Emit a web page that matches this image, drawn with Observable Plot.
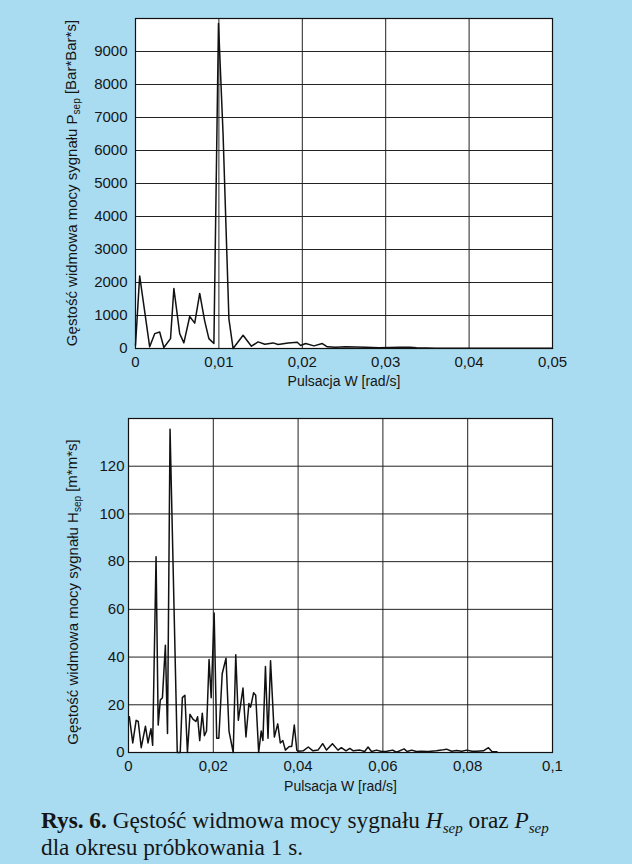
<!DOCTYPE html>
<html><head><meta charset="utf-8">
<script src="https://cdn.jsdelivr.net/npm/d3@7"></script>
<script src="https://cdn.jsdelivr.net/npm/@observablehq/plot@0.6"></script>
<style>
body{margin:0;background:#aadcf1;width:632px;height:864px;overflow:hidden}
#charts svg{display:block}
#caption{font-family:"Liberation Serif",serif;font-size:23.3px;line-height:27px;padding:7px 0 0 41px;color:#151515;white-space:nowrap}
#caption sub{font-size:15px;line-height:0;vertical-align:-5px}
</style></head><body>
<div id="charts"></div>
<div id="caption"><b>Rys. 6.</b> Gęstość widmowa mocy sygnału <i>H<sub>sep</sub></i> oraz <i>P<sub>sep</sub></i><br>dla okresu próbkowania 1 s.</div>
<script>
// Top chart: P_sep spectrum
const topX = [0, 0.0005, 0.0017, 0.0023, 0.0029, 0.0034, 0.0042, 0.0046, 0.0053, 0.0058, 0.0065, 0.0071, 0.0077, 0.0083, 0.0088, 0.0094, 0.00995, 0.0105, 0.0112, 0.0117, 0.0129, 0.0139, 0.0147, 0.0155, 0.0165, 0.0171, 0.0183, 0.0194, 0.0198, 0.0204, 0.0214, 0.0224, 0.0230, 0.0240, 0.0252, 0.0276, 0.0292, 0.0317, 0.0329, 0.0337, 0.0360, 0.0400, 0.0450, 0.0500];
const topY = [100, 2200, 50, 450, 500, 30, 300, 1820, 450, 170, 970, 770, 1670, 830, 300, 150, 9850, 6500, 900, 0, 400, 70, 200, 130, 170, 120, 170, 190, 90, 150, 80, 150, 50, 40, 50, 40, 20, 40, 40, 20, 10, 8, 5, 5];
const topXTicks = [0, 0.01, 0.02, 0.03, 0.04, 0.05];
const topYTicks = [0, 1000, 2000, 3000, 4000, 5000, 6000, 7000, 8000, 9000];

// Bottom chart: H_sep spectrum
const botX = [0.0002, 0.001, 0.0018, 0.0023, 0.003, 0.004, 0.0046, 0.0053, 0.0057, 0.0065, 0.007, 0.0075, 0.008, 0.0087, 0.0092, 0.0098, 0.0115, 0.0122, 0.0127, 0.0133, 0.0139, 0.0145, 0.0152, 0.0159, 0.0163, 0.0168, 0.0174, 0.0179, 0.0184, 0.019, 0.0195, 0.0202, 0.0208, 0.0213, 0.0221, 0.023, 0.0237, 0.0247, 0.0253, 0.0259, 0.027, 0.0277, 0.0284, 0.0288, 0.0295, 0.03, 0.0307, 0.0313, 0.0317, 0.0323, 0.0329, 0.0335, 0.0344, 0.0352, 0.0358, 0.0364, 0.037, 0.0379, 0.0385, 0.0391, 0.0397, 0.04, 0.0412, 0.0424, 0.0435, 0.0447, 0.0458, 0.0467, 0.0481, 0.0494, 0.0502, 0.0513, 0.0522, 0.053, 0.0546, 0.0557, 0.0565, 0.0573, 0.0585, 0.0597, 0.0609, 0.0623, 0.0632, 0.065, 0.0657, 0.0668, 0.0679, 0.0691, 0.0707, 0.0726, 0.0738, 0.075, 0.0762, 0.0774, 0.0786, 0.0798, 0.081, 0.0821, 0.0837, 0.0849, 0.0857, 0.0869];
const botY = [15, 4, 13.5, 13, 2, 11, 4, 10, 3, 82, 11.5, 22, 23, 45, 8, 135.5, 0, 0, 23, 24, 0, 16, 14, 13, 15, 5, 16.5, 7, 9, 39, 23, 58.5, 6, 6, 33, 39.5, 9, 0, 41, 13.5, 27, 6.5, 20.5, 19, 25, 24, 0, 9, 5, 36, 6, 38.5, 6.5, 12, 4, 5, 1, 2.5, 2.5, 11.5, 1, 0.5, 0.7, 2.3, 0.7, 1, 3.7, 1, 3.7, 1, 2, 0.7, 1.7, 0.7, 1, 0.4, 2.3, 0.4, 1, 0.4, 0.5, 1, 0.1, 1.5, 0.4, 1, 0.4, 0.5, 0.4, 0.7, 1, 1.4, 0.5, 0.8, 0.5, 1, 0.5, 0.5, 0.7, 2, 0.4, 0.3];
const botXTicks = [0, 0.02, 0.04, 0.06, 0.08, 0.1];
const botYTicks = [0, 20, 40, 60, 80, 100, 120];

const xLabel = "Pulsacja W [rad/s]";
const fmtX = d => String(d).replace(".", ",");
const fmtY = d => String(d);
const SANS = "'Liberation Sans', Arial, sans-serif";

function chart({xs, ys, xDomain, xTicks, yDomain, yTicks, marginLeft, marginBottom, yPad, symbol, unit, yLabelX, yLabelY, xLabelDy}) {
  const data = xs.map((x, i) => ({x, y: ys[i]}));
  const svg = Plot.plot({
    width: 632, height: 400,
    marginLeft, marginRight: 80, marginTop: 18, marginBottom,
    style: {background: "transparent", fontFamily: SANS, fontSize: "15px", color: "#151515"},
    x: {domain: xDomain},
    y: {domain: yDomain},
    marks: [
      Plot.frame({fill: "white"}),
      Plot.gridX(xTicks, {stroke: "#222", strokeOpacity: 1, strokeWidth: 1}),
      Plot.gridY(yTicks, {stroke: "#222", strokeOpacity: 1, strokeWidth: 1}),
      Plot.axisX(xTicks, {tickSize: 0, tickPadding: 8, tickFormat: fmtX, label: null}),
      Plot.axisY(yTicks, {tickSize: 0, tickPadding: yPad, tickFormat: fmtY, label: null}),
      Plot.text([xLabel], {frameAnchor: "bottom", dy: xLabelDy, fontSize: 14, fill: "#151515"}),
      Plot.line(data, {x: "x", y: "y", stroke: "#111", strokeWidth: 1.5}),
      Plot.frame({stroke: "#111", strokeWidth: 1.2})
    ]
  });
  const t = d3.select(svg).append("text")
    .attr("transform", `translate(${yLabelX},${yLabelY}) rotate(-90)`)
    .attr("text-anchor", "middle").attr("dy", "0.35em")
    .attr("font-family", SANS).attr("font-size", 15).attr("fill", "#151515");
  t.append("tspan").text("Gęstość widmowa mocy sygnału " + symbol);
  t.append("tspan").attr("font-size", 10).attr("dy", "0.3em").text("sep");
  t.append("tspan").attr("dy", "-0.3em").text(" " + unit);
  return svg;
}

const root = document.getElementById("charts");
root.append(chart({xs: topX, ys: topY, xDomain: [0, 0.05], xTicks: topXTicks, yDomain: [0, 10000], yTicks: topYTicks, marginLeft: 135, marginBottom: 52, yPad: 8, symbol: "P", unit: "[Bar*Bar*s]", yLabelX: 72, yLabelY: 183, xLabelDy: 37}));
root.append(chart({xs: botX, ys: botY, xDomain: [0, 0.1], xTicks: botXTicks, yDomain: [0, 140], yTicks: botYTicks, marginLeft: 128, marginBottom: 48, yPad: 4, symbol: "H", unit: "[m*m*s]", yLabelX: 73, yLabelY: 192, xLabelDy: 38}));
</script>
</body></html>
